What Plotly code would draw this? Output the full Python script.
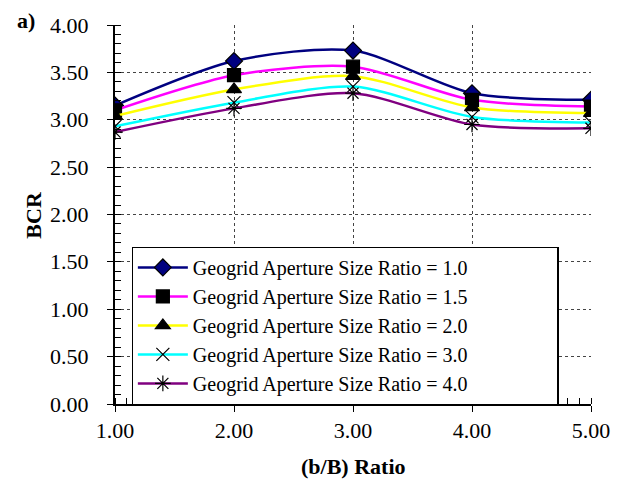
import plotly.graph_objects as go

# (b/B) ratio on the x axis
ratios = [1.0, 2.0, 3.0, 4.0, 5.0]

# BCR for each geogrid aperture size ratio
bcr_10 = [3.15, 3.62, 3.73, 3.28, 3.21]
bcr_15 = [3.10, 3.47, 3.56, 3.21, 3.14]
bcr_20 = [3.04, 3.32, 3.46, 3.13, 3.07]
bcr_30 = [2.93, 3.18, 3.35, 3.03, 2.97]
bcr_40 = [2.87, 3.12, 3.28, 2.95, 2.91]

x_ticks = ["1.00", "2.00", "3.00", "4.00", "5.00"]
y_ticks = ["0.00", "0.50", "1.00", "1.50", "2.00", "2.50", "3.00", "3.50", "4.00"]

names = [
    "Geogrid Aperture Size Ratio = 1.0",
    "Geogrid Aperture Size Ratio = 1.5",
    "Geogrid Aperture Size Ratio = 2.0",
    "Geogrid Aperture Size Ratio = 3.0",
    "Geogrid Aperture Size Ratio = 4.0",
]
series = [bcr_10, bcr_15, bcr_20, bcr_30, bcr_40]
line_colors = ["#000080", "#FF00FF", "#FFFF00", "#00FFFF", "#800080"]
symbols = ["diamond", "square", "triangle-up", "x-thin-open", "asterisk-open"]
marker_fill = ["#000080", "black", "black", "black", "black"]

FONT = "Liberation Serif"
NBSP = "\u00a0"
ZWSP = "\u200b"  # keeps trailing padding from being trimmed

fig = go.Figure()
for name, ys, lc, sym, mf in zip(names, series, line_colors, symbols, marker_fill):
    fig.add_trace(go.Scatter(
        x=ratios, y=ys, name=name + NBSP * 17 + ZWSP, mode="lines+markers",
        line=dict(color=lc, width=2.5, shape="spline", smoothing=0.8),
        marker=dict(symbol=sym, size=13, color=mf,
                    line=dict(color="black", width=1.2)),
    ))

axis_common = dict(
    showline=True, linecolor="black", linewidth=1.5,
    showgrid=True, gridcolor="#444444", gridwidth=1, griddash="dot",
    ticks="outside", ticklen=6, tickcolor="black", tickwidth=1.2,
    zeroline=False, automargin=False,
    tickfont=dict(family=FONT, size=22, color="black"),
)

fig.update_xaxes(
    range=[1, 5], tickvals=ratios, ticktext=x_ticks,
    minor=dict(dtick=0.1, tick0=1, ticks="inside", ticklen=6, tickcolor="black", showgrid=False),
    **axis_common,
)
fig.update_yaxes(
    range=[0, 4], tickvals=[float(t) for t in y_ticks],
    showticklabels=False,
    minor=dict(dtick=0.1, tick0=0, ticks="inside", ticklen=6, tickcolor="black", showgrid=False),
    **axis_common,
)

# y tick labels, set a little further from the axis line
for t in y_ticks:
    fig.add_annotation(
        text=t, xref="paper", yref="y", x=-0.05, y=float(t),
        xanchor="right", yanchor="middle", showarrow=False,
        font=dict(family=FONT, size=22, color="black"),
    )

# axis titles and panel label
fig.add_annotation(
    text="<b>BCR</b>", xref="paper", yref="paper", x=-0.172, y=0.5,
    xanchor="center", yanchor="middle", textangle=-90, showarrow=False,
    font=dict(family=FONT, size=22, color="black"),
)
fig.add_annotation(
    text="<b>(b/B) Ratio</b>", xref="paper", yref="paper", x=0.5, y=-0.166,
    xanchor="center", yanchor="middle", showarrow=False,
    font=dict(family=FONT, size=22, color="black"),
)
fig.add_annotation(
    text="<b>a)</b>", xref="paper", yref="paper", x=-0.21, y=1.013,
    xanchor="left", yanchor="middle", showarrow=False,
    font=dict(family=FONT, size=22, color="black"),
)

fig.update_layout(
    width=622, height=480,
    margin=dict(l=115, r=31, t=25, b=76),
    plot_bgcolor="white", paper_bgcolor="white",
    font=dict(family=FONT, size=20, color="black"),
    legend=dict(
        x=0.035, y=0.415, xanchor="left", yanchor="top",
        bgcolor="white", bordercolor="black", borderwidth=1.2,
        font=dict(family=FONT, size=20, color="black"),
        itemwidth=50, tracegroupgap=0,
    ),
    showlegend=True,
)

fig.write_html("out.html")
